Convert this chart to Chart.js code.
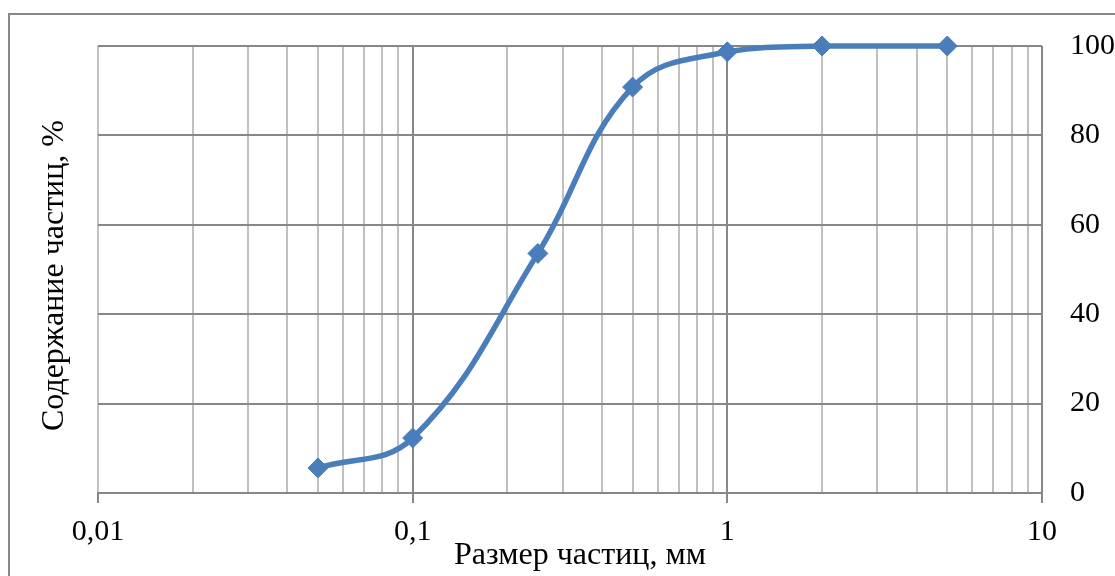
<!DOCTYPE html>
<html>
<head>
<meta charset="utf-8">
<script src="https://cdn.jsdelivr.net/npm/chart.js@4/dist/chart.umd.min.js"></script>
<style>
  html, body { margin: 0; padding: 0; background: #fff; overflow: hidden; width: 1115px; height: 576px; }
  #frame { position: absolute; left: 8px; top: 13px; width: 1200px; height: 700px; border: 2px solid #878787; }
  #c { position: absolute; left: 0; top: 0; }
</style>
</head>
<body>
<div id="frame"></div>
<canvas id="c" width="1115" height="576"></canvas>
<script>
// Grain-size distribution: cumulative content of particles vs particle size
const particleSize = [0.05, 0.1, 0.25, 0.5, 1, 2, 5];          // mm
const particleContent = [5.6, 12.3, 53.6, 90.8, 98.7, 100, 100]; // %
const xDecadeLabels = { '0.01': '0,01', '0.1': '0,1', '1': '1', '10': '10' };
const yTickValues = [0, 20, 40, 60, 80, 100];
const xAxisTitle = 'Размер частиц, мм';
const yAxisTitle = 'Содержание частиц, %';

const isDecade = v => Math.abs(Math.log10(v) - Math.round(Math.log10(v))) < 1e-9;

// log grid: 1..9 in every decade from 0.01 to 10
const xGridValues = [];
for (let e = -2; e < 1; e++) {
  for (let m = 1; m < 10; m++) xGridValues.push(+(m * Math.pow(10, e)).toPrecision(3));
}
xGridValues.push(10);

const labelFor = v => {
  for (const k of Object.keys(xDecadeLabels)) {
    if (Math.abs(Number(k) - v) < 1e-9 * Math.max(1, v)) return xDecadeLabels[k];
  }
  return '';
};

const FAMILY = '"Liberation Serif", "Times New Roman", serif';
const TICK_FONT = { family: FAMILY, size: 30 };
const TITLE_FONT = { family: FAMILY, size: 32 };
const MAJOR = '#878787';
const MINOR = '#c0c0c0';

// axis captions: x below the plot (slightly right of centre), y rotated on the left
const axisCaptions = {
  id: 'axisCaptions',
  afterDraw(chart) {
    const { ctx, chartArea } = chart;
    ctx.save();
    ctx.font = `${TITLE_FONT.size}px ${FAMILY}`;
    ctx.fillStyle = '#000';
    ctx.textAlign = 'center';
    ctx.textBaseline = 'middle';
    ctx.fillText(xAxisTitle, (chartArea.left + chartArea.right) / 2 + 10, chartArea.bottom + 63);
    ctx.translate(55, (chartArea.top + chartArea.bottom) / 2 + 6);
    ctx.rotate(-Math.PI / 2);
    ctx.fillText(yAxisTitle, 0, 0);
    ctx.restore();
  }
};

new Chart(document.getElementById('c'), {
  type: 'scatter',
  data: {
    datasets: [{
      data: particleSize.map((x, i) => ({ x, y: particleContent[i] })),
      showLine: true,
      borderColor: '#4a7ebb',
      backgroundColor: '#4a7ebb',
      borderWidth: 5.5,
      tension: 0.4,
      pointStyle: 'rectRot',
      pointRadius: 10,
      pointHoverRadius: 10,
      pointBorderWidth: 1,
      clip: false
    }]
  },
  options: {
    responsive: false,
    animation: false,
    events: [],
    layout: { padding: { top: 45, right: 0, bottom: 0, left: 98 } },
    plugins: { legend: { display: false }, tooltip: { enabled: false } },
    scales: {
      x: {
        type: 'logarithmic',
        min: 0.01,
        max: 10,
        afterBuildTicks: s => { s.ticks = xGridValues.map(v => ({ value: v, major: isDecade(v) })); },
        afterFit: s => { s.height = 83; },
        ticks: {
          autoSkip: false, maxRotation: 0, minRotation: 0,
          color: '#000', font: TICK_FONT, padding: 11,
          callback: v => labelFor(v)
        },
        grid: {
          color: c => (isDecade(c.tick.value) && c.tick.value > 0.011) ? MAJOR : MINOR,
          lineWidth: 2,
          tickLength: 10,
          tickWidth: 2,
          tickColor: c => isDecade(c.tick.value) ? MAJOR : 'rgba(0,0,0,0)'
        },
        border: { display: true, color: MAJOR, width: 2 }
      },
      y: {
        position: 'right',
        min: 0,
        max: 100,
        afterBuildTicks: s => { s.ticks = yTickValues.map(v => ({ value: v })); },
        afterFit: s => { s.width = 73; },
        ticks: { font: TICK_FONT, color: '#000', padding: 28 },
        grid: { color: MAJOR, lineWidth: 2, drawTicks: false },
        border: { display: false }
      }
    }
  },
  plugins: [axisCaptions]
});
</script>
</body>
</html>
